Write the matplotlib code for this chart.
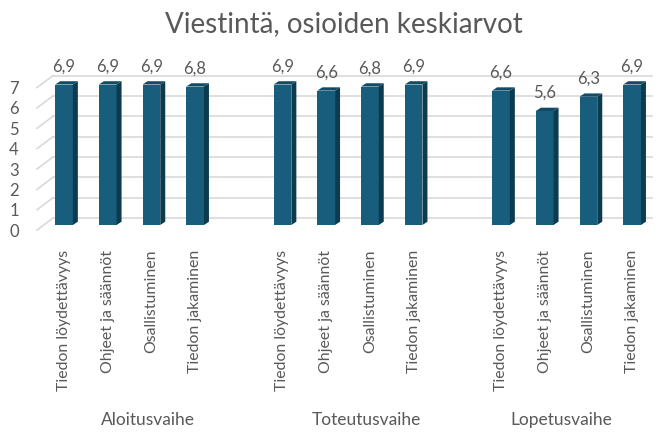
import matplotlib
matplotlib.use("Agg")
import matplotlib.pyplot as plt
from matplotlib.patches import Polygon
from matplotlib.transforms import blended_transform_factory

plt.rcParams['font.family'] = ['Lato', 'DejaVu Sans']

# data
phases = ['Aloitusvaihe', 'Toteutusvaihe', 'Lopetusvaihe']
items = ['Tiedon löydettävyys', 'Ohjeet ja säännöt', 'Osallistuminen', 'Tiedon jakaminen']
aloitus = [6.9, 6.9, 6.9, 6.8]
toteutus = [6.9, 6.6, 6.8, 6.9]
lopetus = [6.6, 5.6, 6.3, 6.9]
yticks = [0, 1, 2, 3, 4, 5, 6, 7]

values = aloitus + toteutus + lopetus
labels = items * len(phases)
# one empty slot between phase groups
xpos = [g * (len(items) + 1) + i for g in range(len(phases)) for i in range(len(items))]

front_c = '#185e7c'
side_c = '#0c3a4e'
top_c = '#114b64'
text_c = '#595959'
grid_c = '#d9d9d9'

fig = plt.figure(figsize=(6.59, 4.32), dpi=100)
# pixel layout: slot 0 at x=64px, 43.7 px per slot; value 0 at y=225px, 20.36 px per unit
px_slot, px_unit = 43.7, 20.36
left_px, right_px, top_px, bot_px = 30, 655, 55, 240
ax = fig.add_axes([left_px / 659, (432 - bot_px) / 432,
                   (right_px - left_px) / 659, (bot_px - top_px) / 432])
ax.set_xlim((left_px - 64) / px_slot, (right_px - 64) / px_slot)
ax.set_ylim(-(bot_px - 225) / px_unit, (225 - top_px) / px_unit)
for s in ax.spines.values():
    s.set_visible(False)

# back wall gridlines and left diagonal (3d look)
back_off = 0.34
front_off = -0.25
x_front = (37 - 64) / px_slot
x_back = (53 - 64) / px_slot
x_end = (652 - 64) / px_slot
for v in yticks:
    ax.plot([x_back, x_end], [v + back_off, v + back_off], color=grid_c, lw=1.2, zorder=1)
    ax.plot([x_front, x_back], [v + front_off, v + back_off], color=grid_c, lw=1.2, zorder=1,
            clip_on=False)

w = 0.405
dx = 5 / px_slot
dy = 3.3 / px_unit
ax.bar(xpos, values, width=w, color=front_c, zorder=3)
for x, v in zip(xpos, values):
    r = x + w / 2
    l = x - w / 2
    ax.add_patch(Polygon([(r, 0), (r + dx, dy), (r + dx, v + dy), (r, v)],
                         closed=True, color=side_c, lw=0, zorder=3))
    ax.add_patch(Polygon([(l, v), (r, v), (r + dx, v + dy), (l + dx, v + dy)],
                         closed=True, color=top_c, lw=0, zorder=3))
    ax.text(x, v + 0.64, f'{v:.1f}'.replace('.', ','), ha='center', va='baseline',
            fontsize=12, color=text_c)

ax.set_yticks([v + front_off for v in yticks], [str(v) for v in yticks])
ax.set_xticks(xpos, labels, rotation=90)
ax.tick_params(axis='y', length=0, pad=8, labelsize=12, labelcolor=text_c)
ax.tick_params(axis='x', length=0, pad=7, labelsize=11.4, labelcolor=text_c)

# group labels sit a bit off the group centres, as in the source chart
group_shift = [0.42, 0.43, -0.12]
trans = blended_transform_factory(ax.transData, fig.transFigure)
for g, name in enumerate(phases):
    cx = g * (len(items) + 1) + (len(items) - 1) / 2 + group_shift[g]
    ax.text(cx, 1 - 425 / 432, name, transform=trans, ha='center', va='baseline',
            fontsize=12.5, color=text_c)

fig.text(344 / 659, 1 - 31.7 / 432, 'Viestintä, osioiden keskiarvot', ha='center',
         va='baseline', fontsize=20, color=text_c)

fig.savefig('out.png', dpi=100)
